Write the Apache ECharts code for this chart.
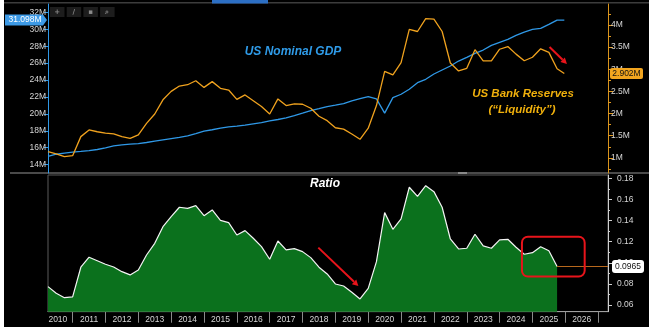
<!DOCTYPE html>
<html><head><meta charset="utf-8">
<script src="https://cdn.jsdelivr.net/npm/echarts@6/dist/echarts.min.js"></script>
<style>html,body{margin:0;padding:0;background:#fff}#c{width:649px;height:333px}</style>
</head><body><div id="c"></div>
<script>
// ---------- data ----------
const quarters = [];
for (let y = 2010; y <= 2025; y++) for (let q = 1; q <= 4; q++) { if (y === 2025 && q > 3) break; quarters.push(y + 'Q' + q); }
const gdp = [14.96,15.22,15.36,15.47,15.55,15.66,15.78,15.98,16.20,16.34,16.42,16.48,16.61,16.77,16.93,17.08,17.22,17.40,17.66,17.95,18.12,18.30,18.46,18.54,18.66,18.82,18.97,19.17,19.33,19.53,19.80,20.08,20.39,20.62,20.86,21.02,21.21,21.53,21.80,22.04,21.77,20.08,21.92,22.32,22.91,23.69,24.09,24.72,25.19,25.66,26.25,26.69,27.16,27.55,28.10,28.46,28.82,29.29,29.68,30.00,30.11,30.59,31.098];
const reserves = [1.14,1.09,1.03,1.05,1.48,1.63,1.59,1.56,1.54,1.48,1.44,1.52,1.78,1.99,2.31,2.50,2.62,2.65,2.74,2.59,2.72,2.57,2.53,2.32,2.42,2.29,2.16,1.99,2.33,2.18,2.22,2.21,2.12,1.94,1.84,1.68,1.65,1.54,1.42,1.67,2.18,2.95,2.87,3.15,3.90,3.85,4.14,4.13,3.85,3.14,2.96,3.02,3.44,3.19,3.19,3.45,3.51,3.34,3.19,3.27,3.46,3.38,3.01];
const ratio = [0.0774,0.0711,0.0669,0.0676,0.0958,0.1053,0.1020,0.0986,0.0960,0.0916,0.0885,0.0932,0.1074,0.1185,0.1343,0.1438,0.1527,0.1517,0.1542,0.1447,0.1501,0.1402,0.1381,0.1264,0.1305,0.1233,0.1153,0.1034,0.1207,0.1122,0.1134,0.1106,0.1049,0.0958,0.0894,0.0799,0.0780,0.0720,0.0657,0.0758,0.1011,0.1476,0.1318,0.1416,0.1717,0.1630,0.1732,0.1675,0.1527,0.1226,0.1131,0.1138,0.1271,0.1160,0.1138,0.1217,0.1223,0.1147,0.1081,0.1096,0.1153,0.1115,0.0965];
const latestDate = 2025.97;      // latest daily print (decimal year)
const latestGdp = 31.098;
const latestReserves = 2.902;
const years = [2010,2011,2012,2013,2014,2015,2016,2017,2018,2019,2020,2021,2022,2023,2024,2025,2026];
const gdpTicks = [14,16,18,20,22,24,26,28,30,32];
const reserveTicks = [1,1.5,2,2.5,3,3.5,4];
const reserveMinor = [0.75,1.25,1.75,2.25,2.75,3.25,3.75,4.25];
const ratioTicks = [0.06,0.08,0.10,0.12,0.14,0.16,0.18];
const ratioMinor = [0.07,0.09,0.11,0.13,0.15,0.17];

// ---------- helpers ----------
const qx = q => { const y = +q.slice(0,4), n = +q.slice(5); return y + n / 4; };
const xMin = 2010.25, xMax = 2027.3;
const FONT = '"Liberation Sans", Arial, sans-serif';
const lblCol = '#d6d6d6';
const blue = '#2f98e6', orange = '#f0a21e';

const gdpData = quarters.map((q,i) => [qx(q), gdp[i]]).concat([[latestDate, latestGdp]]);
const resData = quarters.map((q,i) => [qx(q), reserves[i]]).concat([[latestDate, latestReserves]]);
const ratioData = quarters.map((q,i) => [qx(q), ratio[i]]);
const lastRatio = ratio[ratio.length-1];
const lastX = qx(quarters[quarters.length-1]);

const chart = echarts.init(document.getElementById('c'), null, {renderer:'canvas'});

const option = {
  animation: false,
  backgroundColor: '#ffffff',
  textStyle: {fontFamily: FONT},
  grid: [
    {left: 48, right: 41, top: 4, height: 169},
    {left: 48, right: 41, top: 175, height: 136.7, show: true, borderColor: '#5a5a5a', borderWidth: 1, backgroundColor: 'transparent'}
  ],
  xAxis: [
    {type:'value', gridIndex:0, min:xMin, max:xMax, show:false},
    {type:'value', gridIndex:1, min:xMin, max:xMax,
     axisLine:{lineStyle:{color:'#a0a0a0'}},
     splitLine:{show:false},
     axisTick:{show:true, customValues: years.slice(1).concat([2027]), length: 11, lineStyle:{color:'#8a8a8a'}},
     axisLabel:{color: lblCol, fontSize: 8.5, fontFamily: FONT, margin: 3,
       customValues: years.map(y => Math.max(y + 0.5, xMin + 0.3)),
       formatter: v => String(Math.floor(v))}
    }
  ],
  yAxis: [
    {type:'value', gridIndex:0, position:'left', min:13, max:33,
     axisLine:{show:true, lineStyle:{color: blue}},
     axisTick:{show:true, customValues: gdpTicks, length:4, lineStyle:{color: blue}},
     axisLabel:{customValues: gdpTicks, color: lblCol, fontSize: 8.5, margin: 2, formatter: v => v + 'M'},
     splitLine:{show:false}},
    {type:'value', gridIndex:0, position:'right', min:0.66, max:4.47,
     axisLine:{show:true, lineStyle:{color: '#d9941c'}},
     axisTick:{show:true, customValues: reserveTicks, length:5, lineStyle:{color: '#e39a1f'}},
     axisLabel:{customValues: reserveTicks, color: lblCol, fontSize: 8.5, margin: 3, formatter: v => v + 'M'},
     splitLine:{show:false}},
    {type:'value', gridIndex:0, position:'right', min:0.66, max:4.47,
     axisLine:{show:false},
     axisTick:{show:true, customValues: reserveMinor, length:3, lineStyle:{color: '#e39a1f'}},
     axisLabel:{show:false}, splitLine:{show:false}},
    {type:'value', gridIndex:1, position:'right', min:0.0536, max:0.1833,
     axisLine:{show:true, lineStyle:{color:'#cfcfcf'}},
     axisTick:{show:true, customValues: ratioTicks, length:4, lineStyle:{color:'#cfcfcf'}},
     axisLabel:{customValues: ratioTicks, color: lblCol, fontSize: 8.5, margin: 9, formatter: v => v.toFixed(2)},
     splitLine:{show:false}},
    {type:'value', gridIndex:1, position:'right', min:0.0536, max:0.1833,
     axisLine:{show:false},
     axisTick:{show:true, customValues: ratioMinor, length:2, lineStyle:{color:'#cfcfcf'}},
     axisLabel:{show:false}, splitLine:{show:false}}
  ],
  series: [
    {type:'line', name:'US Nominal GDP', xAxisIndex:0, yAxisIndex:0, data: gdpData, showSymbol:false, symbol:'none',
     lineStyle:{color: blue, width:1.3}, z:3},
    {type:'line', name:'US Bank Reserves', xAxisIndex:0, yAxisIndex:1, data: resData, showSymbol:false, symbol:'none',
     lineStyle:{color: orange, width:1.3}, z:4},
    {type:'line', name:'Ratio', xAxisIndex:1, yAxisIndex:3, data: ratioData, showSymbol:false, symbol:'none',
     lineStyle:{color:'#f4f4f4', width:1.2},
     areaStyle:{color:'#0b711d', opacity:1, origin:'start'},
     markLine:{silent:true, symbol:['none','none'], animation:false,
       lineStyle:{color:'#b8681d', width:1, type:'solid'},
       label:{show:true, position:'end', distance:4, formatter: () => lastRatio.toFixed(4),
              backgroundColor:'#ffffff', color:'#111', fontSize:8.5, padding:[2,3,2,3], borderRadius:3},
       data:[[{coord:[lastX, lastRatio]},{coord:[xMax, lastRatio]}]]},
     z:3}
  ],
  graphic: []
};
chart.setOption(option);

// ---------- annotations and chrome ----------
const P = (si, x, y) => chart.convertToPixel({seriesIndex: si}, [x, y]);
const g = [];
g.push({type:'rect', z:-100, silent:true, shape:{x:4, y:0, width:645, height:327}, style:{fill:'#000'}});
g.push({type:'rect', z:-90, silent:true, shape:{x:4, y:2, width:645, height:1.5}, style:{fill:'#3c3c3c'}});
g.push({type:'rect', z:-80, silent:true, shape:{x:212, y:0, width:56, height:3.5}, style:{fill:'#2c6fc4'}});
g.push({type:'rect', z:-90, silent:true, shape:{x:10, y:172, width:639, height:2}, style:{fill:'#4a4a4a'}});
g.push({type:'rect', z:-85, silent:true, shape:{x:458, y:172, width:9, height:2}, style:{fill:'#8a8a8a'}});
// toolbar
const icons = ['+', '∕', '▪', '⌕'];
icons.forEach((t, k) => {
  g.push({type:'rect', z:5, silent:true, shape:{x:50 + k*16.7, y:7, width:14.5, height:10}, style:{fill:'#1d1d1d'}});
  g.push({type:'text', z:6, silent:true, style:{x:57.2 + k*16.7, y:12, text:t, fill:'#8a8a8a', font:'bold 7px "DejaVu Sans"', align:'center', verticalAlign:'middle'}});
});
// texts
g.push({type:'text', z:10, silent:true, style:{x:293, y:52, text:'US Nominal GDP', fill:'#2f9be8', font:'italic bold 12px ' + FONT, align:'center', verticalAlign:'middle'}});
g.push({type:'text', z:10, silent:true, style:{x:523, y:94, text:'US Bank Reserves', fill:'#f0b00c', font:'italic bold 11.5px ' + FONT, align:'center', verticalAlign:'middle'}});
g.push({type:'text', z:10, silent:true, style:{x:522, y:110, text:'(\u201cLiquidity\u201d)', fill:'#f0b00c', font:'italic bold 11.5px ' + FONT, align:'center', verticalAlign:'middle'}});
g.push({type:'text', z:10, silent:true, style:{x:325, y:184, text:'Ratio', fill:'#ffffff', font:'italic bold 12px ' + FONT, align:'center', verticalAlign:'middle'}});
// value boxes
const pg = P(0, xMin, latestGdp);
g.push({type:'polygon', z:20, silent:true, shape:{points:[[5,pg[1]-5.5],[43,pg[1]-5.5],[47,pg[1]],[43,pg[1]+5.5],[5,pg[1]+5.5]]}, style:{fill:'#3d9ae6'}});
g.push({type:'text', z:21, silent:true, style:{x:25, y:pg[1], text: latestGdp.toFixed(3) + 'M', fill:'#ffffff', font:'8.5px ' + FONT, align:'center', verticalAlign:'middle'}});
const pr = P(1, xMax, latestReserves);
g.push({type:'rect', z:20, silent:true, shape:{x:610, y:pr[1]-5.5, width:33, height:11, r:2}, style:{fill:'#f2a51f'}});
g.push({type:'text', z:21, silent:true, style:{x:626.5, y:pr[1], text: latestReserves.toFixed(3) + 'M', fill:'#111', font:'8.5px ' + FONT, align:'center', verticalAlign:'middle'}});
// red arrows
function arrow(a, b) {
  const dx = b[0]-a[0], dy = b[1]-a[1], L = Math.hypot(dx, dy), ux = dx/L, uy = dy/L;
  const hl = 6, hw = 3.2;
  const base = [b[0]-ux*hl, b[1]-uy*hl];
  g.push({type:'line', z:30, silent:true, shape:{x1:a[0], y1:a[1], x2:base[0], y2:base[1]}, style:{stroke:'#e8141b', lineWidth:2}});
  g.push({type:'polygon', z:30, silent:true, shape:{points:[b,[base[0]-uy*hw, base[1]+ux*hw],[base[0]+uy*hw, base[1]-ux*hw]]}, style:{fill:'#e8141b'}});
}
arrow(P(1, 2025.52, 3.50), P(1, 2026.05, 3.12));
arrow(P(2, 2018.48, 0.1144), P(2, 2019.70, 0.078));
// red rounded box
const b0 = P(2, 2024.68, 0.1248), b1 = P(2, 2026.59, 0.0869);
g.push({type:'rect', z:30, silent:true, shape:{x:b0[0], y:b0[1], width:b1[0]-b0[0], height:b1[1]-b0[1], r:6}, style:{fill:'none', stroke:'#e8141b', lineWidth:2}});

chart.setOption({graphic: g});
</script></body></html>
